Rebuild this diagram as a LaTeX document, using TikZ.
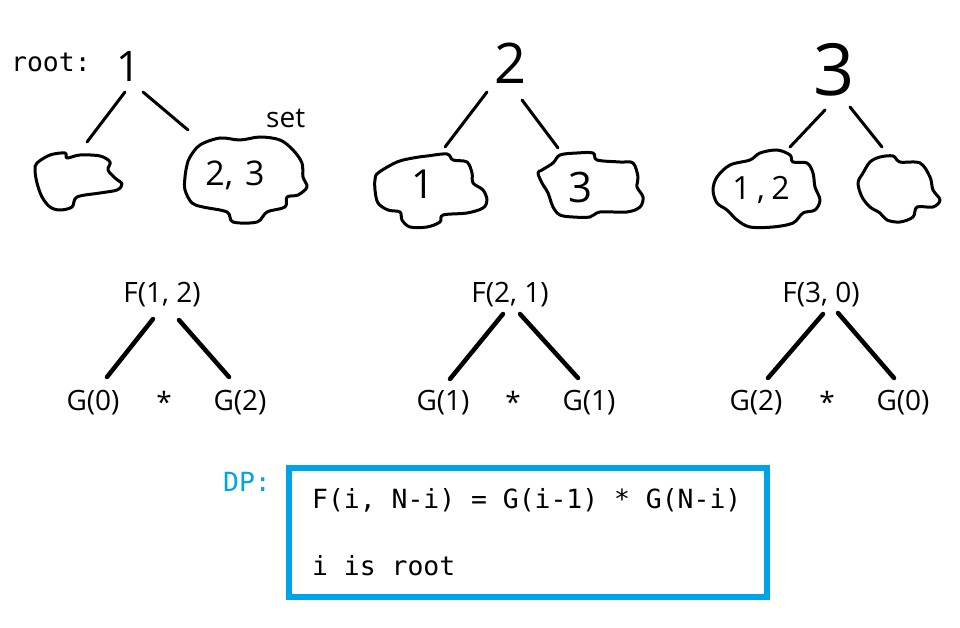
\documentclass[tikz,border=0pt]{standalone}
\usepackage{fontspec}
\setmainfont{Open Sans}
\newfontfamily\monof{DejaVu Sans Mono}
\definecolor{dpblue}{HTML}{00A2E8}
\begin{document}
\begin{tikzpicture}[x=1pt,y=-1pt,
  lbl/.style={inner sep=0pt, anchor=base, font=\fontsize{28}{30}\selectfont},
  mono/.style={inner sep=0pt, anchor=base west, font=\monof\fontsize{26.4}{30}\selectfont},
  digit/.style={inner sep=0pt, anchor=center, font=\fontsize{#1}{#1}\selectfont},
  hand/.style={line width=3pt, line cap=round, line join=round},
  cloudline/.style={line width=3pt, line join=round},
  treeedge/.style={line width=4.5pt, line cap=round}]
\useasboundingbox (0,0) rectangle (960,628);

% ---------- top row: hand-drawn trees ----------
\node[mono] (rootlbl) at (11,72) {root:};
\node[digit=42] (r1) at (129,67) {1};
\node[digit=56] (r2) at (511,63) {2};
\node[digit=72] (r3) at (834,70) {3};
\node[inner sep=0pt, anchor=base west, font=\fontsize{28}{30}\selectfont] (setlbl) at (266,128) {set};

\coordinate (a1) at (125,92);  \coordinate (b1) at (87,142);
\coordinate (a2) at (143,92);  \coordinate (b2) at (188,130);
\coordinate (a3) at (487,92);  \coordinate (b3) at (445,147);
\coordinate (a4) at (522,100); \coordinate (b4) at (558,148);
\coordinate (a5) at (825,110); \coordinate (b5) at (790,147);
\coordinate (a6) at (850,107); \coordinate (b6) at (882,147);
\foreach \i in {1,...,6} \draw[hand] (a\i) -- (b\i);

% clouds
\draw[cloudline] plot[smooth cycle, tension=0.55] coordinates {
 (37,163) (50,155) (65,153) (67,158) (80,155) (100,156) (110,162) (108,170)
 (115,178) (122,184) (117,190) (100,193) (77,197) (72,207) (60,210) (50,207)
 (42,197) (37,183) (35,170)};
\draw[cloudline] plot[smooth cycle, tension=0.55] coordinates {
 (190,157) (200,145) (220,138) (240,140) (260,137) (280,140) (293,150) (302,163)
 (303,177) (307,187) (298,195) (287,197) (285,207) (267,212) (257,222) (233,222)
 (227,212) (203,207) (192,203) (185,190) (185,177) (187,165)};
\draw[cloudline] plot[smooth cycle, tension=0.55] coordinates {
 (378,173) (397,162) (413,158) (427,156) (447,154) (453,160) (467,162) (472,173)
 (473,183) (483,190) (487,200) (483,208) (467,213) (443,215) (440,222) (427,227)
 (410,227) (402,220) (400,212) (388,210) (378,203) (375,190) (375,180)};
\draw[cloudline] plot[smooth cycle, tension=0.55] coordinates {
 (542,170) (553,163) (560,155) (577,153) (593,153) (597,160) (620,162) (633,163)
 (638,177) (637,187) (643,197) (640,207) (627,212) (600,212) (590,217) (573,217)
 (560,215) (553,207) (548,193) (542,183) (538,173)};
\draw[cloudline] plot[smooth cycle, tension=0.55] coordinates {
 (717,177) (730,165) (750,160) (760,153) (777,150) (790,155) (793,162) (807,163)
 (813,173) (815,187) (820,200) (815,210) (803,213) (793,223) (773,227) (750,227)
 (737,220) (727,210) (717,203) (713,190)};
\draw[cloudline] plot[smooth cycle, tension=0.55] coordinates {
 (863,173) (870,162) (880,157) (893,156) (900,162) (920,163) (930,177) (933,190)
 (940,200) (933,207) (917,207) (913,217) (900,222) (887,220) (880,213) (870,207)
 (862,197) (858,183)};

\node[inner sep=0pt, anchor=base, font=\fontsize{34}{34}\selectfont] (c23) at (235,186) {2,\hspace{0.35em}3};
\node[digit=40] (c1) at (423,184) {1};
\node[digit=42] (c3) at (580,187) {3};
\node[inner sep=0pt, anchor=base, font=\fontsize{32}{32}\selectfont] (c12) at (761,200) {1\hspace{0.2em},\hspace{0.2em}2};

% ---------- middle row: F / G trees ----------
\node[lbl] (f1) at (162,302) {F(1, 2)};
\node[lbl] (g10) at (93,410) {G(0)};
\node[lbl] (s1) at (164,412) {*};
\node[lbl] (g12) at (240,410) {G(2)};

\node[lbl] (f2) at (510,302) {F(2, 1)};
\node[lbl] (g21) at (443,410) {G(1)};
\node[lbl] (s2) at (513,412) {*};
\node[lbl] (g22) at (589,410) {G(1)};

\node[lbl] (f3) at (821,302) {F(3, 0)};
\node[lbl] (g32) at (756,410) {G(2)};
\node[lbl] (s3) at (827,412) {*};
\node[lbl] (g30) at (903,410) {G(0)};

\coordinate (p1) at (153,319); \coordinate (q1) at (107,377);
\coordinate (p2) at (179,320); \coordinate (q2) at (229,377);
\coordinate (p3) at (503,314); \coordinate (q3) at (450,379);
\coordinate (p4) at (520,314); \coordinate (q4) at (578,378);
\coordinate (p5) at (823,314); \coordinate (q5) at (768,378);
\coordinate (p6) at (838,313); \coordinate (q6) at (894,378);
\foreach \i in {1,...,6} \draw[treeedge] (p\i) -- (q\i);

% ---------- DP box ----------
\node[mono, text=dpblue] (dp) at (223,491) {DP:};
\draw[draw=dpblue, line width=6pt] (288.5,468) rectangle (767,597);
\node[mono] (eq) at (312,508) {F(i, N-i) = G(i-1) * G(N-i)};
\node[mono] (isroot) at (312,575) {i is root};
\end{tikzpicture}
\end{document}
